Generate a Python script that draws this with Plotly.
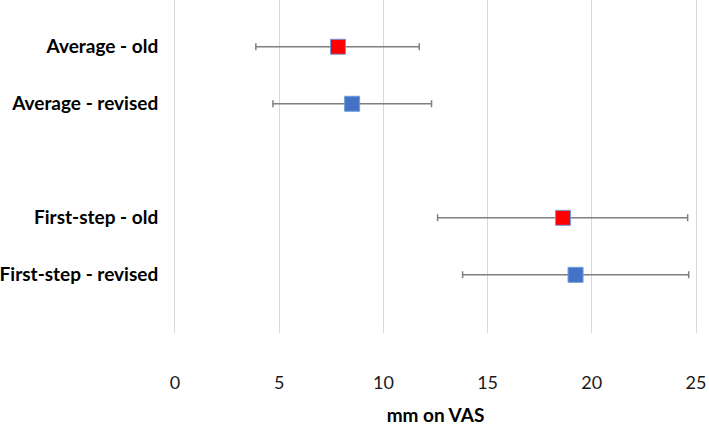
import plotly.graph_objects as go

# Data
categories = ["Average - old", "Average - revised", "First-step - old", "First-step - revised"]
row_positions = [0, 1, 3, 4]
means = [7.82, 8.5, 18.62, 19.22]
lower = [3.88, 4.7, 12.6, 13.8]
upper = [11.72, 12.31, 24.6, 24.65]
colors = ["#FF0000", "#4472C4", "#FF0000", "#4472C4"]
x_ticks = [0, 5, 10, 15, 20, 25]

err_plus = [u - m for u, m in zip(upper, means)]
err_minus = [m - l for m, l in zip(means, lower)]

fig = go.Figure()
fig.add_trace(go.Scatter(
    x=means,
    y=row_positions,
    mode="markers",
    marker=dict(symbol="square", size=15, color=colors,
                line=dict(color="#6F9BE0", width=1)),
    error_x=dict(type="data", symmetric=False, array=err_plus, arrayminus=err_minus,
                 color="#7F7F7F", thickness=1.5, width=3.5),
    showlegend=False,
    hoverinfo="x+y",
))

fig.update_layout(
    width=709, height=426,
    margin=dict(l=173, r=13, t=0, b=93),
    plot_bgcolor="white", paper_bgcolor="white",
    font=dict(family="Lato", color="#000000"),
)
fig.update_xaxes(
    range=[0, 25], tickvals=x_ticks, ticktext=[str(v) for v in x_ticks],
    showgrid=True, gridcolor="#D9D9D9", gridwidth=1,
    zeroline=False, showline=False, ticks="",
    tickfont=dict(size=18, color="#1a1a1a", family="Lato"),
    ticklabelstandoff=37,
    title=dict(text="<b>mm on VAS</b>", font=dict(size=19, family="Lato"), standoff=20),
)
fig.update_yaxes(
    range=[5.02, -0.82], tickvals=row_positions, ticktext=[f"<b>{c}</b>" for c in categories],
    showgrid=False, zeroline=False,
    showline=True, mirror=True, linecolor="#D9D9D9", linewidth=1,
    ticks="",
    tickfont=dict(size=19, family="Lato", color="#000000"),
    ticklabelstandoff=12,
)

fig.write_html("out.html", config={"displayModeBar": False},
               post_script="document.body.style.margin='0';")
